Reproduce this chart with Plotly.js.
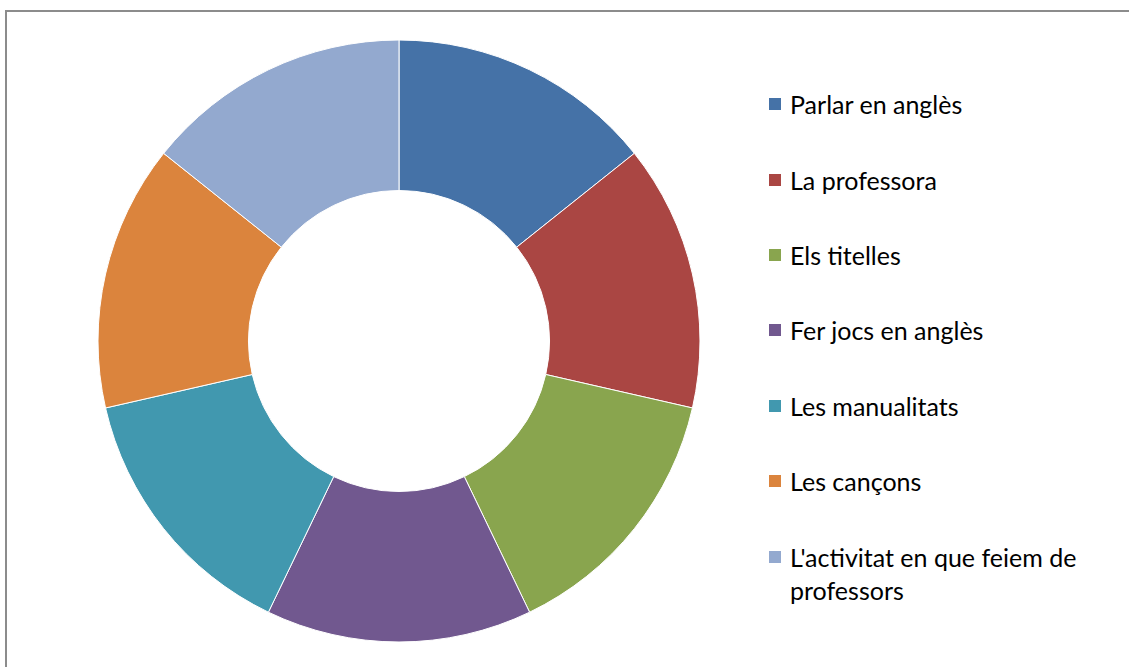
<!DOCTYPE html>
<html><head><meta charset="utf-8">
<script src="https://cdn.plot.ly/plotly-3.0.1.min.js"></script>
<style>html,body{margin:0;padding:0;background:#fff}#chart{width:1129px;height:667px}</style>
</head><body><div id="chart"></div>
<script>
const categories = ["Parlar en anglès","La professora","Els titelles","Fer jocs en anglès","Les manualitats","Les cançons","L'activitat en que feiem de professors"];
const legendLabels = ["Parlar en anglès","La professora","Els titelles","Fer jocs en anglès","Les manualitats","Les cançons","L'activitat en que feiem de<br>professors"];
const values = [1,1,1,1,1,1,1];
const colors = ["#4572A7","#AA4643","#89A54E","#71588F","#4198AF","#DB843D","#93A9CF"];

const W = 1129, H = 667;
const px = v => v / W, py = v => 1 - v / H;

const rowY = [104,180,255,330,406,481,557];
const textY = [104,180,255,330,406,481,573];
const shapes = [{type:'rect',xref:'paper',yref:'paper',x0:px(6),x1:px(1140),y0:py(680),y1:py(11),line:{color:'#8c8c8c',width:2},fillcolor:'rgba(0,0,0,0)'}];
const annotations = [];
categories.forEach((c,i)=>{
  shapes.push({type:'rect',xref:'paper',yref:'paper',x0:px(769),x1:px(781),y0:py(rowY[i]+6),y1:py(rowY[i]-6),line:{width:0},fillcolor:colors[i]});
  annotations.push({xref:'paper',yref:'paper',x:px(788),y:py(textY[i]),xanchor:'left',yanchor:'middle',
    text:legendLabels[i],showarrow:false,align:'left',font:{family:'Lato, sans-serif',size:25,color:'#000'}});
});

Plotly.newPlot('chart',[{
  type:'pie',labels:categories,values:values,hole:0.5,sort:false,direction:'clockwise',rotation:0,
  marker:{colors:colors,line:{color:'#ffffff',width:1}},textinfo:'none',hoverinfo:'label+value',
  domain:{x:[px(98),px(700)],y:[py(642),py(40)]},showlegend:false
}],{
  width:W,height:H,margin:{l:0,r:0,t:0,b:0},paper_bgcolor:'#fff',showlegend:false,
  shapes:shapes,annotations:annotations
},{staticPlot:true});
</script></body></html>
